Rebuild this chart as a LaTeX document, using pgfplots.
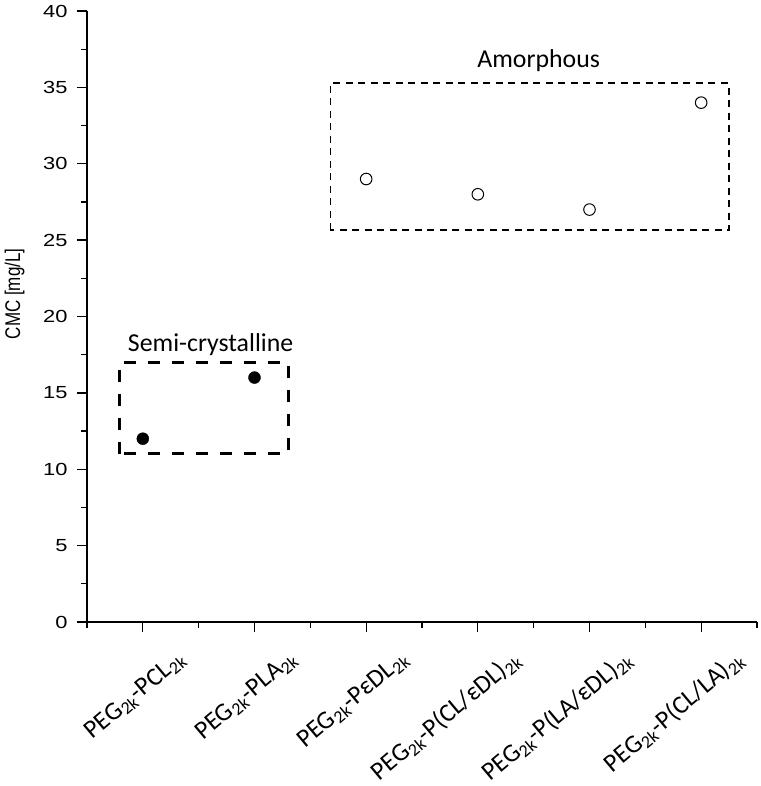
\documentclass[border=0pt]{standalone}
\usepackage{fontspec}
\setmainfont{Liberation Sans}
\newfontfamily\calibri{Carlito}
\newfontfamily\tickfont[FakeStretch=1.25]{Liberation Sans}
\usepackage{pgfplots}
\pgfplotsset{compat=1.18}
\begin{document}
\begin{tikzpicture}[x=1pt,y=1pt]
\path[use as bounding box] (0,0) rectangle (760,786);
\begin{axis}[
  at={(87pt,164pt)}, anchor=south west,
  scale only axis, width=670pt, height=611pt,
  xmin=-0.5, xmax=5.5, ymin=0, ymax=40,
  axis x line*=bottom, axis y line*=left,
  clip=false,
  xtick={0,1,2,3,4,5},
  minor xtick={-0.5,0.5,1.5,2.5,3.5,4.5,5.5},
  ytick={0,5,...,40},
  minor ytick={2.5,7.5,...,37.5},
  tick align=outside,
  major tick length=10pt, minor tick length=6pt,
  every tick/.style={black, line width=1.3pt},
  axis line style={black, line width=1.5pt},
  /pgf/number format/assume math mode=true,
  yticklabel style={font=\tickfont\fontsize{17.5}{19}\selectfont, xshift=-6pt},
  xticklabels={
    {PEG\textsubscript{2k}-PCL\textsubscript{2k}},
    {PEG\textsubscript{2k}-PLA\textsubscript{2k}},
    {PEG\textsubscript{2k}-PεDL\textsubscript{2k}},
    {PEG\textsubscript{2k}-P(CL/εDL)\textsubscript{2k}},
    {PEG\textsubscript{2k}-P(LA/εDL)\textsubscript{2k}},
    {PEG\textsubscript{2k}-P(CL/LA)\textsubscript{2k}}},
  xticklabel style={font=\calibri\fontsize{25.5}{29}\selectfont, xshift=42pt, yshift=-22pt, rotate=40, anchor=east},
  ylabel={\scalebox{1}[1.25]{CMC [mg/L]}},
  ylabel style={font=\fontsize{17}{19}\selectfont, at={(axis description cs:-0.108,0.537)}, anchor=center},
]
\addplot[only marks, mark=*, mark size=6pt, black] coordinates {(0,12) (1,16)};
\addplot[only marks, mark=o, mark size=5.8pt, black, mark options={line width=1pt, fill=white}] coordinates {(2,29) (3,28) (4,27) (5,34)};
\draw[black, line width=3pt, dash pattern=on 12pt off 12pt] (axis cs:-0.21,11) rectangle (axis cs:1.3,17);
\draw[black, line width=1.8pt, dash pattern=on 7pt off 5.5pt] (axis cs:1.68,25.65) rectangle (axis cs:5.25,35.27);
\node[font=\calibri\fontsize{25.8}{30}\selectfont, anchor=base] at (axis cs:0.607,17.68) {Semi-crystalline};
\node[font=\calibri\fontsize{25.8}{30}\selectfont, anchor=base] at (axis cs:3.545,36.33) {Amorphous};
\end{axis}
\end{tikzpicture}
\end{document}
